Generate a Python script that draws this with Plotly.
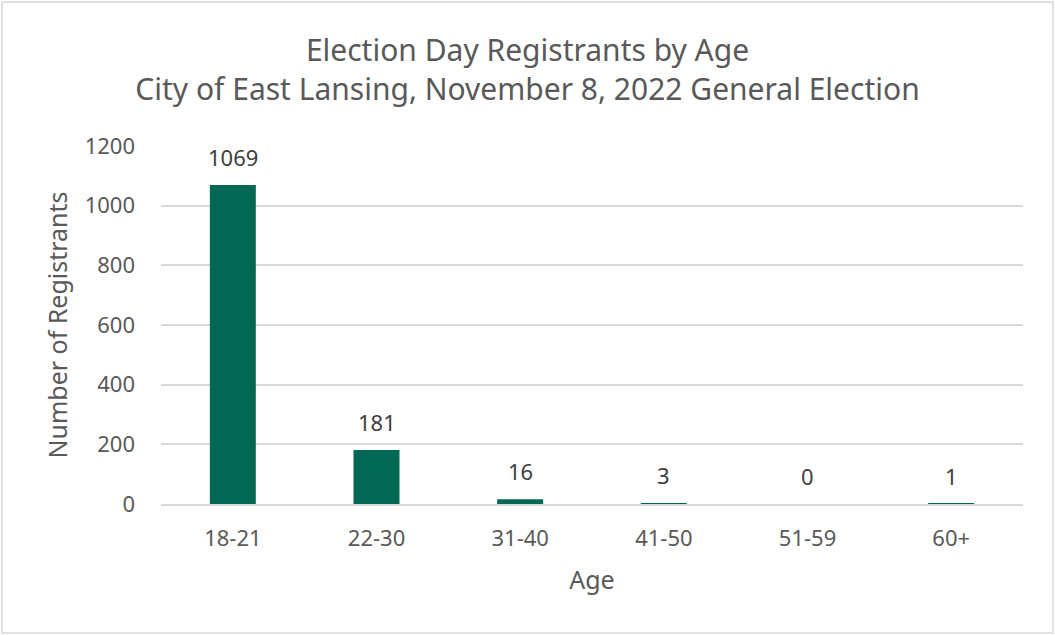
import plotly.graph_objects as go

categories = ["18-21", "22-30", "31-40", "41-50", "51-59", "60+"]
registrants = [1069, 181, 16, 3, 0, 1]
y_ticks = [0, 200, 400, 600, 800, 1000, 1200]

W, H = 1055, 635
L, R, T, B = 161, 32, 146, 131
TXT = "#595959"
FONT = "Noto Sans"
PW, PH = W - L - R, H - T - B

fig = go.Figure(go.Bar(
    x=categories, y=registrants,
    marker=dict(color="#006853", line=dict(width=0)),
    width=0.32,
    hoverinfo="x+y",
))

for c, v in zip(categories, registrants):
    fig.add_annotation(
        x=c, y=v, xref="x", yref="y", text=str(v), showarrow=False,
        yanchor="middle", yshift=28,
        font=dict(size=22, color="#404040", family=FONT),
    )

fig.update_layout(
    width=W, height=H,
    margin=dict(l=L, r=R, t=T, b=B),
    paper_bgcolor="white", plot_bgcolor="white",
    font=dict(family=FONT, color=TXT),
    title=dict(
        text="Election Day Registrants by Age<br>City of East Lansing, November 8, 2022 General Election",
        x=0.5, xanchor="center", xref="container", y=1 - 60.5 / H, yanchor="middle", yref="container",
        font=dict(size=30, color=TXT, family=FONT),
    ),
    xaxis=dict(
        title=dict(text="Age", font=dict(size=25, color=TXT), standoff=20),
        tickfont=dict(size=22, color=TXT),
        showline=True, linecolor="#d9d9d9", linewidth=1.5,
        ticks="", showgrid=False, ticklabelstandoff=14,
    ),
    yaxis=dict(
        title=dict(text="Number of Registrants", font=dict(size=25, color=TXT), standoff=9),
        range=[0, 1200], tickvals=y_ticks,
        tickfont=dict(size=22, color=TXT),
        gridcolor="#d9d9d9", gridwidth=1.5, zeroline=False,
        ticks="", ticklabelstandoff=25,
    ),
    showlegend=False,
    shapes=[dict(
        type="rect", xref="paper", yref="paper",
        x0=-(L - 2) / PW, x1=1 + (R - 2) / PW,
        y0=-(B - 2) / PH, y1=1 + (T - 2) / PH,
        line=dict(color="#e0e0e0", width=2), layer="below",
    )],
)

fig.write_html("out.html", config={"displayModeBar": False},
               post_script="document.body.style.margin='0';")
